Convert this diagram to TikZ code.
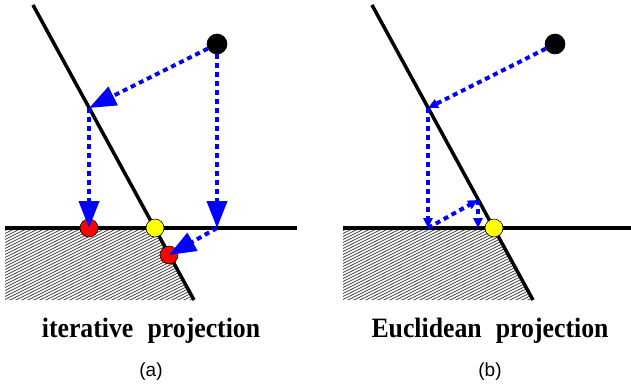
\documentclass[tikz,border=0pt]{standalone}
\usepackage{fontspec}
\setmainfont{Liberation Serif}
\newfontfamily\labelsans{Liberation Sans}
\usetikzlibrary{arrows.meta}
\definecolor{pblue}{RGB}{0,0,255}
\definecolor{pred}{RGB}{255,0,0}
\definecolor{pyellow}{RGB}{255,255,0}
\definecolor{hatchgray}{RGB}{70,70,70}
\begin{document}
\begin{tikzpicture}[x=1pt,y=-1pt,
  edge/.style={line width=3.5pt, black},
  proj/.style={pblue, line width=4pt, dash pattern=on 5pt off 4pt},
  bighead/.style={-{Triangle[length=27pt,width=20pt]}},
  smallhead/.style={-{Triangle[length=10pt,width=9pt]}},
  dotnode/.style={circle, draw=black, line width=0.6pt, minimum size=18pt, inner sep=0pt},
  hatchline/.style={hatchgray, line width=0.8pt},
  title/.style={font=\fontsize{28}{32}\selectfont\bfseries, xscale=0.92, anchor=base},
  sublabel/.style={font=\labelsans\fontsize{19}{22}\selectfont, anchor=base}
]
\useasboundingbox (0,0) rectangle (631,386);

% ---------- panel (a) ----------
\coordinate (A1) at (33,5);
\coordinate (B1) at (194,300);
\coordinate (H1a) at (5,228);
\coordinate (H1b) at (297,228);
\coordinate (P1) at (89,108);
\coordinate (Q1) at (217,228);
\begin{scope}
  \clip (5,228) -- (155,228) -- (194,300) -- (5,300) -- cycle;
  \foreach \i in {200,203,...,420} \draw[hatchline] (0,\i) -- ++(220,-110);
\end{scope}
\draw[edge] (A1) -- (B1);
\draw[edge] (H1a) -- (H1b);
\node[dotnode, fill=black, minimum size=20pt] (K1) at (217,44) {};
\node[dotnode, fill=pyellow] (Y1) at (155,228) {};
\node[dotnode, fill=pred] (R1) at (89,228) {};
\node[dotnode, fill=pred] (R2) at (169,255) {};
\draw[proj, bighead] (K1) -- (P1);
\draw[proj, bighead] (P1) -- (R1.center);
\draw[proj, bighead] (K1) -- (Q1);
\draw[proj, bighead] (Q1) -- (R2.center);
\node[title] (ta) at (151,337) {iterative\hspace{0.3em} projection};
\node[sublabel] (la) at (151,376) {(a)};

% ---------- panel (b) ----------
\coordinate (A2) at (372,5);
\coordinate (B2) at (533,300);
\coordinate (H2a) at (343,228);
\coordinate (H2b) at (631,228);
\coordinate (P2) at (428,108);
\coordinate (S2) at (428,228);
\coordinate (T2) at (478,200);
\coordinate (U2) at (478,228);
\begin{scope}
  \clip (343,228) -- (494,228) -- (533,300) -- (343,300) -- cycle;
  \foreach \i in {200,203,...,420} \draw[hatchline] (338,\i) -- ++(220,-110);
\end{scope}
\draw[edge] (A2) -- (B2);
\draw[edge] (H2a) -- (H2b);
\node[dotnode, fill=black, minimum size=20pt] (K2) at (555,44) {};
\node[dotnode, fill=pyellow] (Y2) at (494,228) {};
\draw[proj, smallhead] (K2) -- (P2);
\draw[proj, smallhead] (P2) -- (S2);
\draw[proj, smallhead] (S2) -- (T2);
\draw[proj, smallhead] (T2) -- (U2);
\node[title] (tb) at (490,337) {Euclidean\hspace{0.3em} projection};
\node[sublabel] (lb) at (490,376) {(b)};
\end{tikzpicture}
\end{document}
